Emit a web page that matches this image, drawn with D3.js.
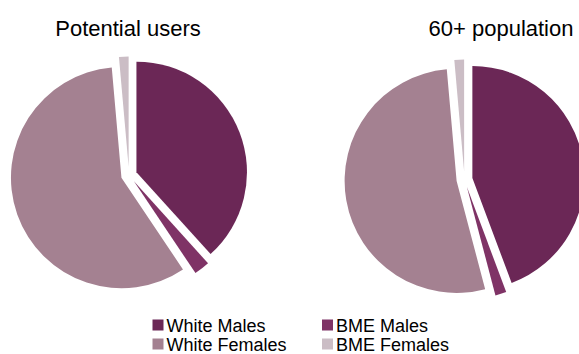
<!DOCTYPE html>
<meta charset="utf-8">
<html>
<head><title>Potential users vs 60+ population</title></head>
<style>
body { margin: 0; background: #fff; }
text { font-family: "Liberation Sans", Arial, sans-serif; fill: #000; }
</style>
<body>
<script src="https://d3js.org/d3.v7.min.js"></script>
<svg id="chart" width="579" height="354"></svg>
<script>

// Data
var categories = ["White Males", "BME Males", "White Females", "BME Females"];
var colors = ["#6b2756", "#7f3366", "#a48191", "#cbbdc5"];
var titles = ["Potential users", "60+ population"];
var potentialUsers = [38.3, 2.3, 58.0, 1.4];
var population60 = [44.3, 1.6, 52.7, 1.4];

var svg = d3.select("#chart");

// layout of the two pies
var pies = [
  { title: titles[0], values: potentialUsers, cx: 129, cy: 175, r: 110.5, tx: 128 },
  { title: titles[1], values: population60, cx: 464.5, cy: 179.5, r: 112, tx: 501 }
];
var explode = 8;

var color = d3.scaleOrdinal().domain(categories).range(colors);

var pie = d3.pie().sort(null).value(function(d) { return d.value; });

pies.forEach(function(p) {
  var data = categories.map(function(c, i) { return { key: c, value: p.values[i] }; });
  var arc = d3.arc().innerRadius(0).outerRadius(p.r);

  var g = svg.append("g")
    .attr("transform", "translate(" + p.cx + "," + p.cy + ")");

  g.selectAll("path")
    .data(pie(data))
    .enter()
    .append("path")
    .attr("d", arc)
    .attr("fill", function(d) { return color(d.data.key); })
    // pull every slice out a little along its middle angle
    .attr("transform", function(d) {
      var a = (d.startAngle + d.endAngle) / 2;
      return "translate(" + (Math.sin(a) * explode) + "," + (-Math.cos(a) * explode) + ")";
    });

  svg.append("text")
    .attr("x", p.tx)
    .attr("y", 36)
    .attr("text-anchor", "middle")
    .style("font-size", "22px")
    .text(p.title);
});

// legend, two columns by two rows
var legend = svg.selectAll("g.legendEntry")
  .data(categories)
  .enter()
  .append("g").attr("class", "legendEntry")
  .attr("transform", function(d, i) {
    var col = i % 2, row = Math.floor(i / 2);
    return "translate(" + (152.5 + col * 169.5) + "," + (319.5 + row * 19) + ")";
  });

legend.append("rect")
  .attr("width", 11)
  .attr("height", 11)
  .attr("fill", function(d) { return color(d); });

legend.append("text")
  .attr("x", 14)
  .attr("y", 12.5)
  .style("font-size", "18px")
  .text(function(d) { return d; });

</script>
</body>
</html>
